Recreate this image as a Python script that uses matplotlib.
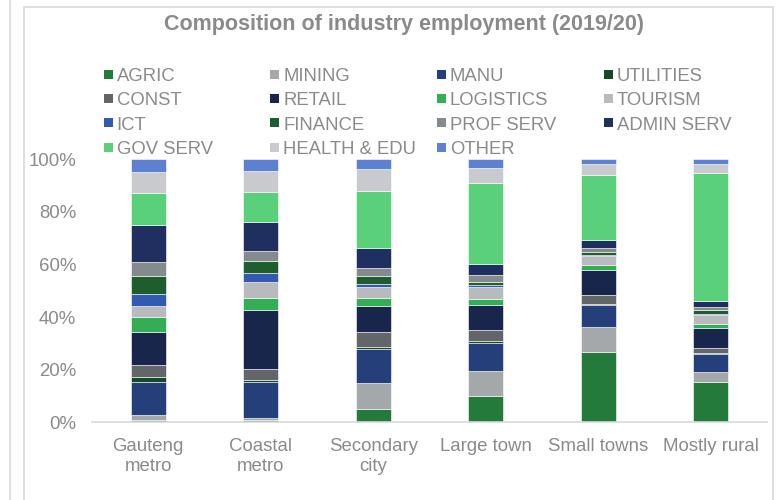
import matplotlib
matplotlib.use("Agg")
import matplotlib.pyplot as plt
from matplotlib.patches import Rectangle
from matplotlib.lines import Line2D
from matplotlib.ticker import PercentFormatter
import numpy as np

plt.rcParams["font.family"] = ["Liberation Sans", "DejaVu Sans"]

# Settlement types (x-axis categories)
regions = ["Gauteng\nmetro", "Coastal\nmetro", "Secondary\ncity",
           "Large town", "Small towns", "Mostly rural"]

# Share of employment by industry (%), one value per settlement type
agric     = [0.9, 1.0, 4.9, 9.9, 26.6, 15.2]
mining    = [2.0, 0.6, 10.2, 9.6, 9.5, 3.9]
manu      = [12.3, 13.7, 12.8, 10.8, 8.4, 6.9]
utilities = [2.0, 0.6, 0.8, 0.6, 0.4, 0.4]
const     = [4.5, 4.5, 5.7, 4.3, 3.4, 1.9]
retail    = [12.8, 22.2, 10.0, 9.4, 9.6, 7.6]
logistics = [5.6, 4.5, 2.9, 2.2, 1.8, 1.4]
tourism   = [4.2, 6.3, 4.3, 4.7, 3.4, 3.5]
ict       = [4.3, 3.2, 0.8, 0.6, 0.4, 0.5]
finance   = [7.2, 4.7, 3.3, 1.3, 1.4, 1.3]
prof_serv = [5.1, 3.8, 2.9, 2.6, 1.3, 1.3]
admin     = [14.2, 11.2, 7.6, 4.2, 3.3, 2.4]
gov_serv  = [12.2, 11.4, 21.7, 30.8, 24.5, 48.5]
health    = [8.0, 8.0, 8.3, 5.8, 4.2, 3.5]
other     = [4.7, 4.3, 3.8, 3.2, 1.8, 1.7]

industries = ["AGRIC", "MINING", "MANU", "UTILITIES", "CONST", "RETAIL",
              "LOGISTICS", "TOURISM", "ICT", "FINANCE", "PROF SERV",
              "ADMIN SERV", "GOV SERV", "HEALTH & EDU", "OTHER"]
series = [agric, mining, manu, utilities, const, retail, logistics, tourism,
          ict, finance, prof_serv, admin, gov_serv, health, other]
colors = ["#237A3A", "#A5A8AB", "#243F7A", "#17482A", "#636669", "#17264A",
          "#34AE54", "#B8BABD", "#3459B1", "#1E5D2D", "#858A8C", "#1F2F60",
          "#5AD07A", "#C8CACD", "#5E80D2"]

TEXT = "#8A8A8A"
W, H = 782, 500
fig = plt.figure(figsize=(W / 100, H / 100), dpi=100)

def fx(px):
    return px / W

def fy(py):
    return 1 - py / H

# chart frame
frame_color = "#D9D9D9"
fig.add_artist(Line2D([fx(10), fx(10)], [0, 1], color=frame_color, lw=1.2,
                      transform=fig.transFigure))
fig.add_artist(Line2D([fx(24), fx(24), fx(773), fx(773)],
                      [0, fy(7), fy(7), 0], color=frame_color, lw=1.2,
                      transform=fig.transFigure))

ax = fig.add_axes([fx(92), fy(422.3), fx(767) - fx(92), fy(159.3) - fy(422.3)])

data = np.array(series, dtype=float)
shares = data / data.sum(axis=0)
x = np.arange(len(regions))
bottom = np.zeros(len(regions))
for name, vals, col in zip(industries, shares, colors):
    ax.bar(x, vals, width=0.31, bottom=bottom, color=col, label=name,
           edgecolor="white", linewidth=0.4)
    bottom += vals

ax.set_xlim(-0.5, len(regions) - 0.5)
ax.set_ylim(0, 1)
ax.set_yticks(np.linspace(0, 1, 6))
ax.yaxis.set_major_formatter(PercentFormatter(1.0, decimals=0))
ax.set_xticks(x)
ax.set_xticklabels(regions, linespacing=1.22)
ax.tick_params(axis="both", length=0, labelsize=13.4, labelcolor=TEXT)
ax.tick_params(axis="y", pad=11.5)
ax.tick_params(axis="x", pad=11.5)
for s in ["top", "right", "left"]:
    ax.spines[s].set_visible(False)
ax.spines["bottom"].set_color(frame_color)
ax.spines["bottom"].set_linewidth(1.2)

# title
fig.text(fx(404), fy(30), "Composition of industry employment (2019/20)",
         ha="center", va="baseline", fontsize=15.5, fontweight="bold",
         color=TEXT)

# legend, laid out row by row in four columns
for i, (name, col) in enumerate(zip(industries, colors)):
    r, c = divmod(i, 4)
    x0 = 104 + c * 166.7
    yc = 74 + r * 24.4
    fig.add_artist(Rectangle((fx(x0 - 0.5), fy(yc + 4.5)), fx(9), 9 / H,
                             facecolor=col, edgecolor="none",
                             transform=fig.transFigure))
    fig.text(fx(x0 + 12.5), fy(yc + 6.7), name, ha="left", va="baseline",
             fontsize=13.3, color=TEXT)

fig.savefig("out.png", dpi=100, facecolor="white")
